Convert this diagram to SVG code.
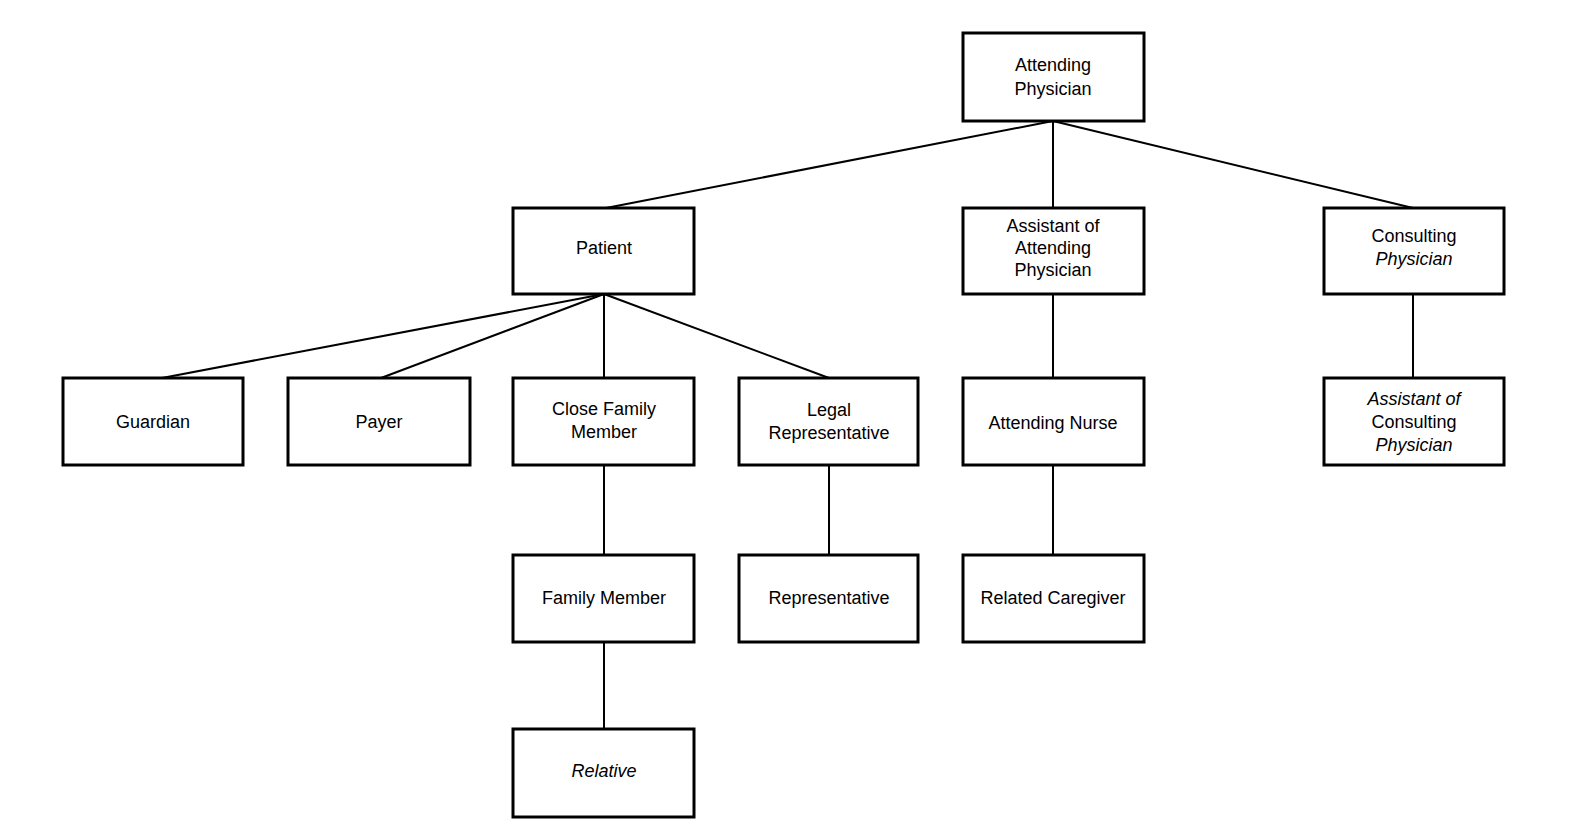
<svg xmlns="http://www.w3.org/2000/svg" width="1584" height="840" viewBox="0 0 1584 840">
<style>
.box{fill:#fff;stroke:#000;stroke-width:3}
.t{font-family:"Liberation Sans",Arial,sans-serif;font-size:18px;fill:#000;text-anchor:middle}
.i{font-style:italic}
.c{stroke:#000;stroke-width:2;fill:none}
</style>
<rect width="1584" height="840" fill="#fff"/>
<g id="connectors">
<line class="c" x1="1053" y1="121" x2="606" y2="208"/>
<line class="c" x1="1053" y1="121" x2="1053" y2="208"/>
<line class="c" x1="1053" y1="121" x2="1413" y2="208"/>
<line class="c" x1="604" y1="294" x2="162" y2="378"/>
<line class="c" x1="604" y1="294" x2="381" y2="378"/>
<line class="c" x1="604" y1="294" x2="604" y2="378"/>
<line class="c" x1="604" y1="294" x2="829" y2="378"/>
<line class="c" x1="604" y1="465" x2="604" y2="555"/>
<line class="c" x1="604" y1="642" x2="604" y2="729"/>
<line class="c" x1="829" y1="465" x2="829" y2="555"/>
<line class="c" x1="1053" y1="294" x2="1053" y2="378"/>
<line class="c" x1="1053" y1="465" x2="1053" y2="555"/>
<line class="c" x1="1413" y1="294" x2="1413" y2="378"/>
</g>
<g id="attending-physician">
<rect class="box" x="963" y="33" width="181" height="88"/>
<text class="t" x="1053" y="71">Attending</text>
<text class="t" x="1053" y="95">Physician</text>
</g>
<g id="patient">
<rect class="box" x="513" y="208" width="181" height="86"/>
<text class="t" x="604" y="254">Patient</text>
</g>
<g id="assistant-attending">
<rect class="box" x="963" y="208" width="181" height="86"/>
<text class="t" x="1053" y="232">Assistant of</text>
<text class="t" x="1053" y="254">Attending</text>
<text class="t" x="1053" y="276">Physician</text>
</g>
<g id="consulting-physician">
<rect class="box" x="1324" y="208" width="180" height="86"/>
<text class="t" x="1414" y="242">Consulting</text>
<text class="t i" x="1414" y="265">Physician</text>
</g>
<g id="guardian">
<rect class="box" x="63" y="378" width="180" height="87"/>
<text class="t" x="153" y="428">Guardian</text>
</g>
<g id="payer">
<rect class="box" x="288" y="378" width="182" height="87"/>
<text class="t" x="379" y="428">Payer</text>
</g>
<g id="close-family-member">
<rect class="box" x="513" y="378" width="181" height="87"/>
<text class="t" x="604" y="415">Close Family</text>
<text class="t" x="604" y="438">Member</text>
</g>
<g id="legal-representative">
<rect class="box" x="739" y="378" width="179" height="87"/>
<text class="t" x="829" y="416">Legal</text>
<text class="t" x="829" y="439">Representative</text>
</g>
<g id="attending-nurse">
<rect class="box" x="963" y="378" width="181" height="87"/>
<text class="t" x="1053" y="429">Attending Nurse</text>
</g>
<g id="assistant-consulting">
<rect class="box" x="1324" y="378" width="180" height="87"/>
<text class="t i" x="1414" y="405">Assistant of</text>
<text class="t" x="1414" y="428">Consulting</text>
<text class="t i" x="1414" y="451">Physician</text>
</g>
<g id="family-member">
<rect class="box" x="513" y="555" width="181" height="87"/>
<text class="t" x="604" y="604">Family Member</text>
</g>
<g id="representative">
<rect class="box" x="739" y="555" width="179" height="87"/>
<text class="t" x="829" y="604">Representative</text>
</g>
<g id="related-caregiver">
<rect class="box" x="963" y="555" width="181" height="87"/>
<text class="t" x="1053" y="604">Related  Caregiver</text>
</g>
<g id="relative">
<rect class="box" x="513" y="729" width="181" height="88"/>
<text class="t i" x="604" y="777">Relative</text>
</g>
</svg>
